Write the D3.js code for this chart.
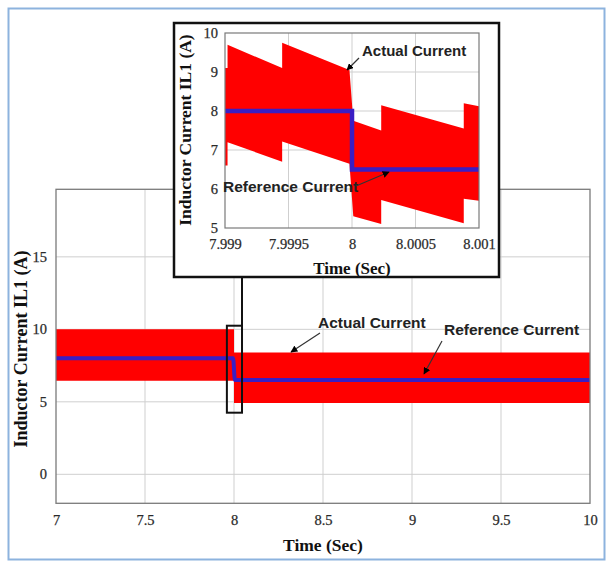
<!DOCTYPE html>
<html>
<head>
<meta charset="utf-8">
<script src="https://cdn.jsdelivr.net/npm/d3@7"></script>
<style>
html,body{margin:0;padding:0;background:#fff;}
svg{display:block;}
</style>
</head>
<body>
<svg id="chart" width="613" height="567"></svg>
<script>
// ---------- DATA ----------
// Main plot
const mainXTicks = [7, 7.5, 8, 8.5, 9, 9.5, 10];
const mainXTickLabels = ["7", "7.5", "8", "8.5", "9", "9.5", "10"];
const mainYTicks = [0, 5, 10, 15];
const mainYTickLabels = ["0", "5", "10", "15"];
// Actual current ripple band (time, upper, lower)
const mainActualTime  = [7, 8, 8, 10];
const mainActualUpper = [10, 10, 8.4, 8.4];
const mainActualLower = [6.45, 6.45, 4.92, 4.92];
// Reference current
const mainRefTime  = [7, 7.995, 8.005, 10];
const mainRefValue = [8, 8, 6.5, 6.5];
// zoom window marked on main plot
const zoomWinX = [7.96, 8.045];
const zoomWinY = [4.25, 10.25];

// Inset plot
const insetXTicks = [7.999, 7.9995, 8, 8.0005, 8.001];
const insetXTickLabels = ["7.999", "7.9995", "8", "8.0005", "8.001"];
const insetYTicks = [5, 6, 7, 8, 9, 10];
const insetYTickLabels = ["5", "6", "7", "8", "9", "10"];
const insetTime  = [7.999, 7.99902, 7.99902, 7.99945, 7.99945, 7.99998, 8.00001, 8.00023, 8.00023, 8.00088, 8.00088, 8.001];
const insetUpper = [9.1,   9.1,     9.7,     9.1,     9.75,    9.05,    7.75,    7.5,     8.15,    7.55,    8.2,     8.12];
const insetLower = [6.6,   6.6,     7.2,     6.7,     7.22,    6.65,    5.3,     5.1,     5.72,    5.12,    5.75,    5.7];
const insetRefTime  = [7.999, 8, 8, 8.001];
const insetRefValue = [8, 8, 6.5, 6.5];

// ---------- DRAW ----------
const svg = d3.select("#chart");
const RED = "#ff0000", BLUE = "#3a1ec4", GRID = "#cfcfcf", AX = "#7a7a7a";
const serif = "'Liberation Serif','Times New Roman',serif";
const sans = "'Liberation Sans',Arial,sans-serif";

svg.append("defs").append("marker")
  .attr("id", "ah").attr("viewBox", "0 0 10 10").attr("refX", 9).attr("refY", 5)
  .attr("markerWidth", 7).attr("markerHeight", 7).attr("orient", "auto-start-reverse")
  .attr("markerUnits", "userSpaceOnUse")
  .append("path").attr("d", "M0,0 L10,5 L0,10 z").attr("fill", "#000");

// outer frame
svg.append("rect").attr("x", 8.5).attr("y", 8.5).attr("width", 596).attr("height", 551)
  .attr("fill", "none").attr("stroke", "#8db3de").attr("stroke-width", 2);

// main scales
const x = d3.scaleLinear().domain([7, 10]).range([56, 590]);
const y = d3.scaleLinear().domain([-2, 19.66]).range([503.3, 189.3]);

const main = svg.append("g");
// grid
main.append("g").selectAll("line").data(mainXTicks.slice(1, -1)).join("line")
  .attr("x1", d => x(d)).attr("x2", d => x(d)).attr("y1", y(-2)).attr("y2", y(19.66))
  .attr("stroke", GRID).attr("stroke-width", 1);
main.append("g").selectAll("line").data(mainYTicks).join("line")
  .attr("x1", x(7)).attr("x2", x(10)).attr("y1", d => y(d)).attr("y2", d => y(d))
  .attr("stroke", GRID).attr("stroke-width", 1);

// actual band
const mainBand = mainActualTime.map((t, i) => ({t, u: mainActualUpper[i], l: mainActualLower[i]}));
main.append("path").datum(mainBand)
  .attr("d", d3.area().x(d => x(d.t)).y0(d => y(d.l)).y1(d => y(d.u)))
  .attr("fill", RED);
// reference
const mainRef = mainRefTime.map((t, i) => ({t, v: mainRefValue[i]}));
main.append("path").datum(mainRef)
  .attr("d", d3.line().x(d => x(d.t)).y(d => y(d.v)).curve(d3.curveMonotoneX))
  .attr("fill", "none").attr("stroke", BLUE).attr("stroke-width", 4);

// axes border
main.append("rect").attr("x", x(7)).attr("y", y(19.66)).attr("width", x(10) - x(7)).attr("height", y(-2) - y(19.66))
  .attr("fill", "none").attr("stroke", AX).attr("stroke-width", 1.3);

function styleTicks(g) {
  g.select(".domain").remove();
  g.selectAll("text").attr("font-family", serif).attr("font-size", 14.5)
    .attr("fill", "#2a2a2a").attr("stroke", "#2a2a2a").attr("stroke-width", 0.25);
}
// axes with d3
const xAxis = d3.axisBottom(x).tickValues(mainXTicks).tickFormat((d, i) => mainXTickLabels[i]).tickSize(0).tickPadding(11);
main.append("g").attr("transform", `translate(0,${y(-2)})`).call(xAxis).call(styleTicks);
const yAxis = d3.axisLeft(y).tickValues(mainYTicks).tickFormat((d, i) => mainYTickLabels[i]).tickSize(0).tickPadding(9);
main.append("g").attr("transform", `translate(${x(7)},0)`).call(yAxis).call(styleTicks);

// axis titles
main.append("text").attr("x", 323).attr("y", 551).attr("text-anchor", "middle")
  .attr("font-family", serif).attr("font-weight", "bold").attr("font-size", 17.5).attr("fill", "#111")
  .text("Time (Sec)");
main.append("text").attr("transform", "translate(27,349) rotate(-90)").attr("text-anchor", "middle")
  .attr("font-family", serif).attr("font-weight", "bold").attr("font-size", 18).attr("fill", "#111")
  .text("Inductor Current IL1 (A)");

// zoom window rect
main.append("rect").attr("x", x(zoomWinX[0])).attr("y", y(zoomWinY[1]))
  .attr("width", x(zoomWinX[1]) - x(zoomWinX[0])).attr("height", y(zoomWinY[0]) - y(zoomWinY[1]))
  .attr("fill", "none").attr("stroke", "#111").attr("stroke-width", 2);

// main annotations
main.append("text").attr("x", 318).attr("y", 328).attr("font-family", sans).attr("font-weight", "bold")
  .attr("font-size", 15.5).attr("fill", "#222").text("Actual Current");
main.append("line").attr("x1", 320).attr("y1", 333).attr("x2", 291).attr("y2", 352)
  .attr("stroke", "#333").attr("stroke-width", 1.2).attr("marker-end", "url(#ah)");
main.append("text").attr("x", 444).attr("y", 335).attr("font-family", sans).attr("font-weight", "bold")
  .attr("font-size", 15.5).attr("fill", "#222").text("Reference Current");
main.append("line").attr("x1", 442).attr("y1", 341).attr("x2", 424).attr("y2", 374)
  .attr("stroke", "#333").attr("stroke-width", 1.2).attr("marker-end", "url(#ah)");

// ---------- INSET ----------
const ins = svg.append("g");
ins.append("rect").attr("x", 174).attr("y", 23).attr("width", 325).attr("height", 254)
  .attr("fill", "#fff").attr("stroke", "#111").attr("stroke-width", 2.5);
// connector
ins.append("line").attr("x1", x(zoomWinX[1])).attr("x2", x(zoomWinX[1]))
  .attr("y1", y(zoomWinY[1])).attr("y2", 278).attr("stroke", "#111").attr("stroke-width", 2);

const xi = d3.scaleLinear().domain([7.999, 8.001]).range([225, 479]);
const yi = d3.scaleLinear().domain([5, 10]).range([228, 33]);

ins.append("g").selectAll("line").data(insetXTicks.slice(1, -1)).join("line")
  .attr("x1", d => xi(d)).attr("x2", d => xi(d)).attr("y1", yi(5)).attr("y2", yi(10))
  .attr("stroke", GRID).attr("stroke-width", 1);
ins.append("g").selectAll("line").data(insetYTicks.slice(1, -1)).join("line")
  .attr("x1", xi(7.999)).attr("x2", xi(8.001)).attr("y1", d => yi(d)).attr("y2", d => yi(d))
  .attr("stroke", GRID).attr("stroke-width", 1);

const insBand = insetTime.map((t, i) => ({t, u: insetUpper[i], l: insetLower[i]}));
ins.append("path").datum(insBand)
  .attr("d", d3.area().x(d => xi(d.t)).y0(d => yi(d.l)).y1(d => yi(d.u)))
  .attr("fill", RED);
const insRef = insetRefTime.map((t, i) => ({t, v: insetRefValue[i]}));
ins.append("path").datum(insRef)
  .attr("d", d3.line().x(d => xi(d.t)).y(d => yi(d.v)))
  .attr("fill", "none").attr("stroke", BLUE).attr("stroke-width", 4.5);

ins.append("rect").attr("x", xi(7.999)).attr("y", yi(10)).attr("width", xi(8.001) - xi(7.999)).attr("height", yi(5) - yi(10))
  .attr("fill", "none").attr("stroke", AX).attr("stroke-width", 1.2);

const xiAxis = d3.axisBottom(xi).tickValues(insetXTicks).tickFormat((d, i) => insetXTickLabels[i]).tickSize(0).tickPadding(11);
ins.append("g").attr("transform", `translate(0,${yi(5)})`).call(xiAxis).call(styleTicks);
const yiAxis = d3.axisLeft(yi).tickValues(insetYTicks).tickFormat((d, i) => insetYTickLabels[i]).tickSize(0).tickPadding(7);
ins.append("g").attr("transform", `translate(${xi(7.999)},0)`).call(yiAxis).call(styleTicks);

ins.append("text").attr("x", 352).attr("y", 274).attr("text-anchor", "middle")
  .attr("font-family", serif).attr("font-weight", "bold").attr("font-size", 17).attr("fill", "#111")
  .text("Time (Sec)");
ins.append("text").attr("transform", "translate(191,130) rotate(-90)").attr("text-anchor", "middle")
  .attr("font-family", serif).attr("font-weight", "bold").attr("font-size", 17.5).attr("fill", "#111")
  .text("Inductor Current IL1 (A)");

ins.append("text").attr("x", 362).attr("y", 56).attr("font-family", sans).attr("font-weight", "bold")
  .attr("font-size", 15).attr("fill", "#222").text("Actual Current");
ins.append("line").attr("x1", 359).attr("y1", 58).attr("x2", 347).attr("y2", 70)
  .attr("stroke", "#333").attr("stroke-width", 1.2).attr("marker-end", "url(#ah)");
ins.append("text").attr("x", 223).attr("y", 192).attr("font-family", sans).attr("font-weight", "bold")
  .attr("font-size", 15.5).attr("fill", "#222").text("Reference Current");
ins.append("line").attr("x1", 356).attr("y1", 186).attr("x2", 389).attr("y2", 172)
  .attr("stroke", "#333").attr("stroke-width", 1.2).attr("marker-end", "url(#ah)");
</script>
</body>
</html>
